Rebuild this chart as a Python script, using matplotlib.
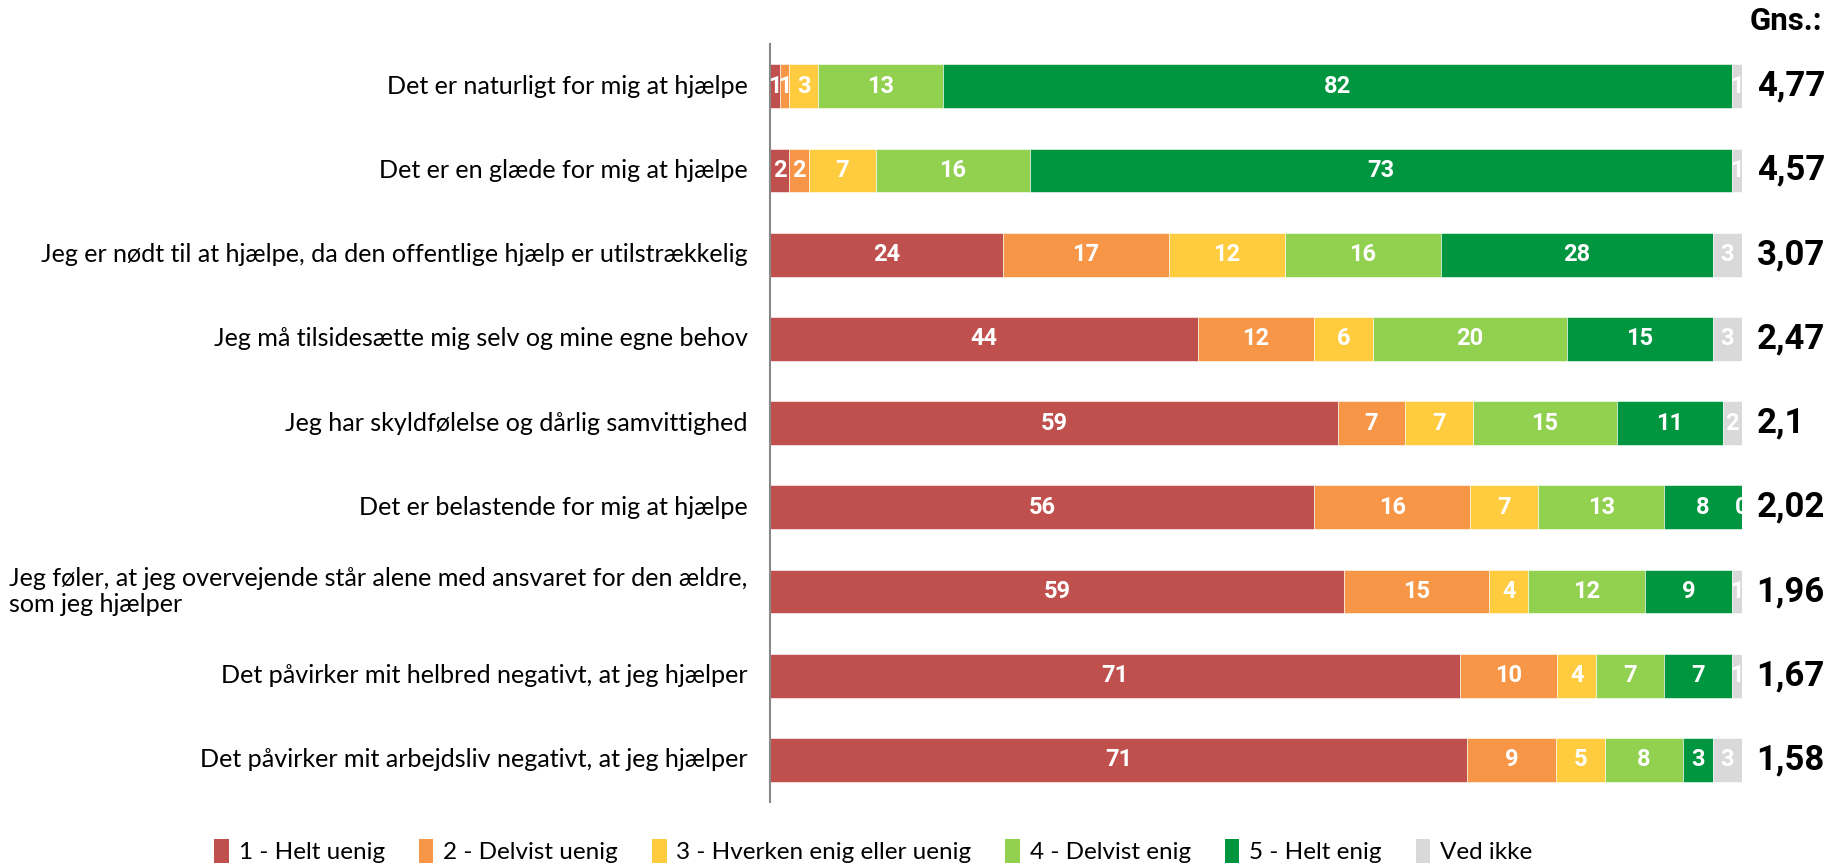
import numpy as np
import matplotlib.pyplot as plt
from matplotlib.patches import Patch

plt.rcParams['font.family'] = ['Lato', 'DejaVu Sans']

categories = [
    'Det er naturligt for mig at hjælpe',
    'Det er en glæde for mig at hjælpe',
    'Jeg er nødt til at hjælpe, da den offentlige hjælp er utilstrækkelig',
    'Jeg må tilsidesætte mig selv og mine egne behov',
    'Jeg har skyldfølelse og dårlig samvittighed',
    'Det er belastende for mig at hjælpe',
    'Jeg føler, at jeg overvejende står alene med ansvaret for den ældre,\nsom jeg hjælper',
    'Det påvirker mit helbred negativt, at jeg hjælper',
    'Det påvirker mit arbejdsliv negativt, at jeg hjælper',
]

legend_labels = ['1 - Helt uenig', '2 - Delvist uenig', '3 - Hverken enig eller uenig',
                 '4 - Delvist enig', '5 - Helt enig', 'Ved ikke']

helt_uenig = [1, 2, 24, 44, 59, 56, 59, 71, 71]
delvist_uenig = [1, 2, 17, 12, 7, 16, 15, 10, 9]
hverken = [3, 7, 12, 6, 7, 7, 4, 4, 5]
delvist_enig = [13, 16, 16, 20, 15, 13, 12, 7, 8]
helt_enig = [82, 73, 28, 15, 11, 8, 9, 7, 3]
ved_ikke = [1, 1, 3, 3, 2, 0, 1, 1, 3]

gns = ['4,77', '4,57', '3,07', '2,47', '2,1', '2,02', '1,96', '1,67', '1,58']

colors = ['#C0504D', '#F79646', '#FFCC3F', '#92D050', '#00953F', '#D9D9D9']

series = np.array([helt_uenig, delvist_uenig, hverken, delvist_enig, helt_enig, ved_ikke],
                  dtype=float)
# bars are 100% stacked
shares = series / series.sum(axis=0) * 100

bold_font = ['Roboto', 'DejaVu Sans']

fig = plt.figure(figsize=(18.27, 8.65), dpi=100)
ax = fig.add_axes([0.4215, 0.0728, 0.532, 0.8762])

y = np.arange(len(categories))
left = np.zeros(len(categories))
for i in range(len(series)):
    ax.barh(y, shares[i], left=left, height=0.52, color=colors[i], label=legend_labels[i],
            edgecolor='white', linewidth=0.4)
    for j in range(len(categories)):
        ax.text(left[j] + shares[i][j] / 2, y[j], f'{int(series[i][j])}',
                ha='center', va='center', color='white', fontsize=17,
                fontweight='bold', family=bold_font)
    left += shares[i]

ax.set_xlim(0, 100)
ax.set_ylim(len(categories) - 0.5, -0.5)

for s in ['top', 'right', 'bottom']:
    ax.spines[s].set_visible(False)
ax.spines['left'].set_color('#888888')
ax.spines['left'].set_linewidth(1.5)
ax.set_xticks([])
ax.set_yticks([])

for j, cat in enumerate(categories):
    ax.text(-2.3, y[j], cat, ha='right', va='center', multialignment='left',
            fontsize=18.1, color='black', linespacing=1.15)
    ax.text(101.5, y[j], gns[j], ha='left', va='center', fontsize=25,
            fontweight='bold', family=bold_font, color='black')

fig.text(0.9575, 0.976, 'Gns.:', ha='left', va='center', fontsize=22.5,
         fontweight='bold', family=bold_font)

handles = [Patch(facecolor=c) for c in colors]
fig.legend(handles, legend_labels, loc='center', bbox_to_anchor=(0.478, 0.016), ncol=6,
           frameon=False, fontsize=17.5, handlelength=0.6, handleheight=1.1,
           handletextpad=0.4, columnspacing=1.4)

fig.savefig('out.png', dpi=100)
